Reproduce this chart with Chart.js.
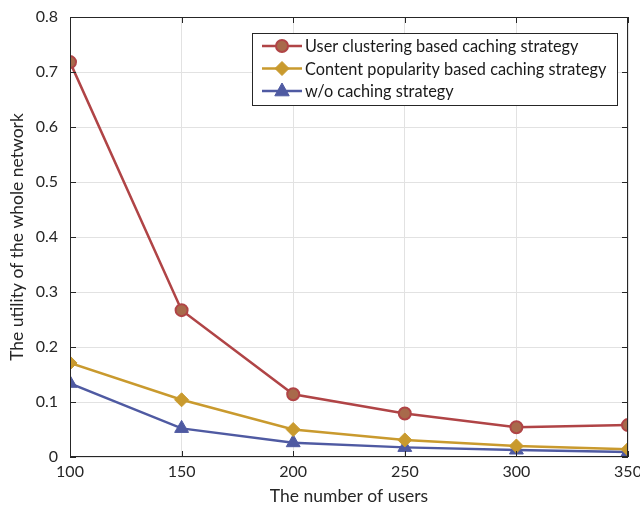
<!DOCTYPE html>
<html>
<head>
<meta charset="utf-8">
<script src="https://cdn.jsdelivr.net/npm/chart.js@4.4.0/dist/chart.umd.min.js"></script>
<style>
  html, body { margin: 0; padding: 0; background: #fff; }
  #wrap { width: 640px; height: 511px; position: relative; }
</style>
</head>
<body>
<div id="wrap"><canvas id="chart"></canvas></div>
<script>
// Data
const users = [100, 150, 200, 250, 300, 350];
const clusteringUtility = [0.718, 0.267, 0.114, 0.079, 0.054, 0.058];
const popularityUtility = [0.171, 0.104, 0.050, 0.031, 0.020, 0.014];
const noCachingUtility = [0.134, 0.052, 0.026, 0.0175, 0.0127, 0.009];
const seriesLabels = [
  'User clustering based caching strategy',
  'Content popularity based caching strategy',
  'w/o caching strategy',
];
const yTicks = [0, 0.1, 0.2, 0.3, 0.4, 0.5, 0.6, 0.7, 0.8];

const FONT = 'Lato, "Open Sans", sans-serif';
const AXIS_COLOR = '#262626';

// Box around the plot with inward ticks on all four sides
const boxPlugin = {
  id: 'box',
  afterDraw(chart) {
    const { ctx, chartArea: a, scales } = chart;
    ctx.save();
    ctx.strokeStyle = AXIS_COLOR;
    ctx.lineWidth = 1;
    ctx.strokeRect(a.left + 0.5, a.top + 0.5, a.right - a.left - 1, a.bottom - a.top - 1);
    ctx.beginPath();
    const tl = 6;
    scales.x.ticks.forEach(t => {
      const x = Math.round(scales.x.getPixelForValue(t.value)) + 0.5;
      ctx.moveTo(x, a.bottom); ctx.lineTo(x, a.bottom - tl);
      ctx.moveTo(x, a.top); ctx.lineTo(x, a.top + tl);
    });
    scales.y.ticks.forEach(t => {
      const y = Math.round(scales.y.getPixelForValue(t.value)) + 0.5;
      ctx.moveTo(a.left, y); ctx.lineTo(a.left + tl, y);
      ctx.moveTo(a.right, y); ctx.lineTo(a.right - tl, y);
    });
    ctx.stroke();
    ctx.restore();
  }
};

function drawMarker(ctx, style, r, x, y) {
  if (style === 'circle') {
    ctx.arc(x, y, r, 0, Math.PI * 2);
  } else if (style === 'rectRot') {
    ctx.moveTo(x, y - r); ctx.lineTo(x + r, y); ctx.lineTo(x, y + r); ctx.lineTo(x - r, y); ctx.closePath();
  } else {
    ctx.moveTo(x, y - r); ctx.lineTo(x + r * 0.9, y + r * 0.6); ctx.lineTo(x - r * 0.9, y + r * 0.6); ctx.closePath();
  }
}

// MATLAB style legend: line with marker in the middle
const legendPlugin = {
  id: 'boxLegend',
  afterDraw(chart) {
    const { ctx, chartArea: a } = chart;
    const x0 = a.right - 376, y0 = a.top + 16, w = 365, h = 72;
    ctx.save();
    ctx.fillStyle = '#fff';
    ctx.fillRect(x0, y0, w, h);
    ctx.strokeStyle = AXIS_COLOR;
    ctx.lineWidth = 1;
    ctx.strokeRect(x0 + 0.5, y0 + 0.5, w, h);
    chart.data.datasets.forEach((ds, i) => {
      const y = y0 + 13 + i * 22.5;
      ctx.strokeStyle = ds.borderColor;
      ctx.lineWidth = ds.borderWidth;
      ctx.beginPath();
      ctx.moveTo(x0 + 10, y); ctx.lineTo(x0 + 50, y);
      ctx.stroke();
      ctx.fillStyle = ds.pointBackgroundColor;
      ctx.strokeStyle = ds.pointBorderColor;
      ctx.lineWidth = ds.pointBorderWidth;
      ctx.beginPath();
      drawMarker(ctx, ds.pointStyle, ds.pointRadius, x0 + 30, y);
      ctx.fill();
      ctx.stroke();
      ctx.fillStyle = '#1a1a1a';
      ctx.font = '16.3px ' + FONT;
      ctx.textBaseline = 'middle';
      ctx.fillText(ds.label, x0 + 53, y + 1);
    });
    ctx.restore();
  }
};

function makeSeries(label, data, line, face, style, radius) {
  return {
    label: label,
    data: data,
    borderColor: line,
    borderWidth: 2.5,
    pointStyle: style,
    pointRadius: radius,
    pointHoverRadius: radius,
    pointBackgroundColor: face,
    pointBorderColor: line,
    pointBorderWidth: style === 'circle' ? 2 : 1,
    tension: 0,
    fill: false,
  };
}

const ctx = document.getElementById('chart').getContext('2d');
new Chart(ctx, {
  type: 'line',
  data: {
    labels: users,
    datasets: [
      makeSeries(seriesLabels[0], clusteringUtility, '#b04446', '#a86a4b', 'circle', 6),
      makeSeries(seriesLabels[1], popularityUtility, '#c99a2e', '#c99a2e', 'rectRot', 7),
      makeSeries(seriesLabels[2], noCachingUtility, '#4f5aa2', '#4f5aa2', 'triangle', 8),
    ],
  },
  options: {
    responsive: true,
    maintainAspectRatio: false,
    animation: false,
    layout: { padding: { top: 17, right: 12, left: 0, bottom: 0 } },
    plugins: {
      legend: { display: false },
      tooltip: { enabled: false },
    },
    scales: {
      x: {
        type: 'linear',
        min: 100,
        max: 350,
        afterBuildTicks(axis) {
          axis.ticks = users.map(v => ({ value: v }));
        },
        afterFit(axis) {
          axis.height = 54;
          axis.paddingLeft = 0;
          axis.paddingRight = 0;
        },
        grid: { color: '#e2e2e2', drawTicks: false },
        border: { display: false },
        ticks: {
          color: '#262626',
          padding: 5,
          font: { family: FONT, size: 16 },
        },
        title: {
          display: true,
          text: 'The number of users',
          color: '#262626',
          font: { family: FONT, size: 17.5 },
          padding: { top: 2 },
        },
      },
      y: {
        min: 0,
        max: 0.8,
        afterBuildTicks(axis) {
          axis.ticks = yTicks.map(v => ({ value: v }));
        },
        afterFit(axis) {
          axis.width = 70;
          axis.paddingTop = 0;
          axis.paddingBottom = 0;
        },
        grid: { color: '#e2e2e2', drawTicks: false },
        border: { display: false },
        ticks: {
          color: '#262626',
          padding: 12,
          font: { family: FONT, size: 16 },
          callback: v => String(Math.round(v * 10) / 10),
        },
        title: {
          display: true,
          text: 'The utility of the whole network',
          color: '#262626',
          font: { family: FONT, size: 17.5 },
          padding: { top: 7, bottom: 2 },
        },
      },
    },
  },
  plugins: [boxPlugin, legendPlugin],
});
</script>
</body>
</html>
